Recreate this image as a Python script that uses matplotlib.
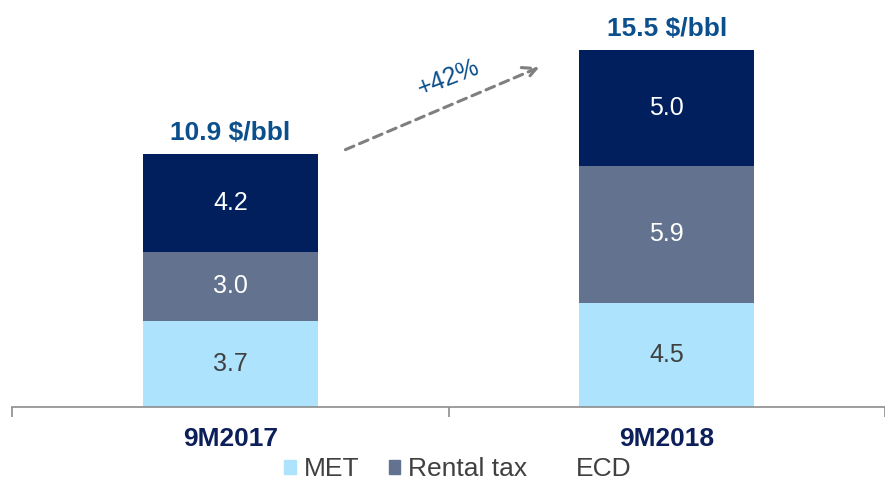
import matplotlib

matplotlib.use("Agg")

import matplotlib.pyplot as plt
from matplotlib.patches import Patch

plt.rcParams["font.family"] = ["Liberation Sans", "DejaVu Sans"]

categories = ["9M2017", "9M2018"]
met = [3.7, 4.5]
rental_tax = [3.0, 5.9]
ecd = [4.2, 5.0]
totals = ["10.9 $/bbl", "15.5 $/bbl"]
growth_label = "+42%"

c_met = "#ade3fd"
c_rent = "#63728f"
c_ecd = "#001f5c"

fig = plt.figure(figsize=(8.85, 4.82), dpi=100)
ax = fig.add_axes([12 / 885, 75 / 482, 873 / 885, 407 / 482])

x = range(len(categories))
w = 0.40
ax.bar(x, met, w, color=c_met, label="MET")
ax.bar(x, rental_tax, w, bottom=met, color=c_rent, label="Rental tax")
bottom3 = [a + b for a, b in zip(met, rental_tax)]
ax.bar(x, ecd, w, bottom=bottom3, color=c_ecd, label="ECD")

for i in x:
    ax.text(i, met[i] / 2, f"{met[i]:.1f}", ha="center", va="center",
            fontsize=18, color="#404040")
    ax.text(i, met[i] + rental_tax[i] / 2, f"{rental_tax[i]:.1f}",
            ha="center", va="center", fontsize=18, color="white")
    ax.text(i, bottom3[i] + ecd[i] / 2, f"{ecd[i]:.1f}", ha="center",
            va="center", fontsize=18, color="white")
    ax.text(i, bottom3[i] + ecd[i] + 0.4, totals[i], ha="center",
            va="bottom", fontsize=19, fontweight="bold", color="#0b4f8c")

# growth arrow between the bars
ax.annotate("", xy=(0.714, 14.7), xytext=(0.258, 11.05),
            arrowprops=dict(arrowstyle="->", color="#7f7f7f", lw=2.2,
                            linestyle=(0, (3, 2)), mutation_scale=24))
ax.text(0.50, 14.2, growth_label, rotation=21, ha="center", va="center",
        fontsize=18, color="#0b4f8c", rotation_mode="anchor")

ax.set_xlim(-0.5, 1.5)
ax.set_ylim(0, 17.55)
ax.set_yticks([])
for s in ["top", "right", "left"]:
    ax.spines[s].set_visible(False)
ax.spines["bottom"].set_color("#8c8c8c")
ax.spines["bottom"].set_linewidth(1.2)
ax.set_xticks([-0.5, 0.5, 1.5])
ax.set_xticklabels([])
ax.tick_params(axis="x", length=7, color="#8c8c8c", width=1.2)
for i, c in enumerate(categories):
    ax.text(i, -0.85, c, ha="center", va="top", fontsize=19,
            fontweight="bold", color="#0d1f5a")

handles = [Patch(color=c_met, label="MET"),
           Patch(color=c_rent, label="Rental tax"),
           Patch(color="white", label="ECD")]
fig.legend(handles=handles, loc="center", bbox_to_anchor=(458 / 885, 1 - 469 / 482),
           ncol=3, frameon=False, fontsize=19, handlelength=0.45,
           handleheight=0.45, handletextpad=0.3, columnspacing=1.1,
           labelcolor="#404040")

fig.savefig("out.png", dpi=100)
